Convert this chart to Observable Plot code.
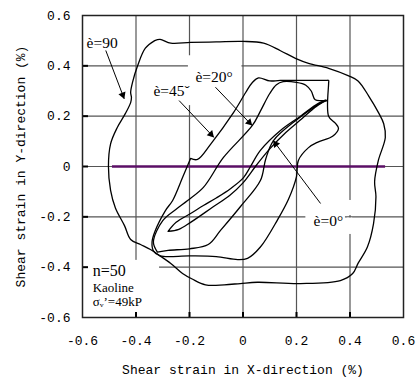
<!DOCTYPE html>
<html><head><meta charset="utf-8">
<style>body{margin:0;background:#fff}</style>
<script src="https://cdn.jsdelivr.net/npm/d3@7"></script>
<script src="https://cdn.jsdelivr.net/npm/@observablehq/plot@0.6"></script>
</head><body><div id="chart"></div>
<script>
// ---- data ----
const xTicks = [-0.6, -0.4, -0.2, 0, 0.2, 0.4, 0.6];
const yTicks = [-0.6, -0.4, -0.2, 0, 0.2, 0.4, 0.6];
const gridValues = [-0.4, -0.2, 0, 0.2, 0.4];
const xLabel = "Shear strain in X-direction (%)";
const yLabel = "Shear strain in Y-direction (%)";

// purple reference line at y = 0 (x extent)
const purpleFrom = -0.488, purpleTo = 0.533;

// theta = 90 loop
const theta90 = [[-0.33,0.50],[-0.365,0.47],[-0.394,0.40],[-0.413,0.334],[-0.42,0.294],[-0.417,0.274],[-0.42,0.254],[-0.44,0.21],[-0.47,0.155],[-0.495,0.09],[-0.503,0.0],[-0.495,-0.095],[-0.477,-0.165],[-0.443,-0.235],[-0.42,-0.29],[-0.383,-0.31],[-0.346,-0.33],[-0.31,-0.355],[-0.27,-0.385],[-0.226,-0.425],[-0.19,-0.447],[-0.14,-0.47],[-0.07,-0.47],[-0.01,-0.465],[0.054,-0.46],[0.215,-0.465],[0.364,-0.453],[0.41,-0.425],[0.43,-0.385],[0.465,-0.32],[0.488,-0.227],[0.497,-0.12],[0.492,-0.06],[0.506,0.024],[0.532,0.115],[0.526,0.17],[0.506,0.215],[0.47,0.28],[0.43,0.34],[0.395,0.36],[0.32,0.39],[0.245,0.41],[0.196,0.43],[0.14,0.46],[0.077,0.49],[0.0,0.497],[-0.1,0.495],[-0.196,0.493],[-0.27,0.49],[-0.31,0.505],[-0.33,0.50]];
// theta = 45 loop
const theta45 = [[-0.196,0.032],[-0.17,0.028],[-0.12,0.09],[-0.035,0.215],[0.01,0.294],[0.035,0.334],[0.058,0.352],[0.1,0.34],[0.14,0.342],[0.31,0.342],[0.32,0.342],[0.32,0.33],[0.32,0.2],[0.345,0.172],[0.357,0.152],[0.335,0.12],[0.28,0.097],[0.245,0.075],[0.207,0.024],[0.2,-0.04],[0.17,-0.13],[0.13,-0.21],[0.065,-0.32],[0.017,-0.365],[-0.02,-0.37],[-0.1,-0.358],[-0.2,-0.355],[-0.31,-0.355],[-0.335,-0.335],[-0.34,-0.3],[-0.33,-0.26],[-0.29,-0.175],[-0.263,-0.135],[-0.226,-0.044],[-0.196,0.032]];
// theta = 20 loop
const theta20 = [[-0.32,-0.34],[-0.335,-0.3],[-0.3,-0.215],[-0.25,-0.17],[-0.207,-0.135],[-0.148,-0.083],[-0.073,0.036],[0.035,0.163],[0.065,0.22],[0.1,0.29],[0.125,0.325],[0.15,0.337],[0.2,0.334],[0.235,0.323],[0.255,0.3],[0.27,0.265],[0.3,0.262],[0.315,0.262],[0.29,0.252],[0.2,0.185],[0.114,0.103],[0.085,0.03],[0.065,-0.056],[-0.01,-0.16],[-0.084,-0.254],[-0.13,-0.31],[-0.2,-0.327],[-0.28,-0.333],[-0.32,-0.34]];
// theta = 0 loop
const theta0 = [[-0.28,-0.258],[-0.25,-0.222],[-0.196,-0.187],[-0.148,-0.155],[-0.1,-0.125],[-0.047,-0.088],[0.002,-0.044],[0.028,0.0],[0.065,0.064],[0.14,0.143],[0.215,0.2],[0.28,0.25],[0.31,0.264],[0.27,0.236],[0.22,0.19],[0.16,0.135],[0.1,0.07],[0.05,0.005],[0.0,-0.065],[-0.05,-0.115],[-0.114,-0.162],[-0.196,-0.222],[-0.24,-0.25],[-0.28,-0.258]];

// annotation labels
const labelText = ["è=90", "è=45ˇ", "è=20°", "è=0°"];
const labelX = [-0.585, -0.335, -0.178, 0.264];
const labelY = [0.489, 0.298, 0.354, -0.215];
// arrows: start -> tip
const arrowX1 = [-0.513, -0.239, -0.103, 0.29];
const arrowY1 = [0.461, 0.262, 0.315, -0.147];
const arrowX2 = [-0.444, -0.109, 0.034, 0.113];
const arrowY2 = [0.269, 0.116, 0.163, 0.103];
// white label backgrounds (break the grid)
const boxX1 = [-0.204, -0.346, 0.235, 0.39, 0.39, -0.6];
const boxX2 = [-0.004, -0.178, 0.383, 0.41, 0.41, -0.312];
const boxY1 = [0.30, 0.242, -0.27, -0.27, -0.195, -0.58];
const boxY2 = [0.44, 0.342, -0.135, -0.205, -0.135, -0.373];
// legend block
const legendLines = ["n=50", "Kaoline", "σᵥ’=49kP"];
const legendX = -0.562;
const legendY = [-0.415, -0.481, -0.536];
const legendSize = [16, 13, 13];

// ---- build ----
const W = 417, H = 378, mL = 82, mR = 14, mT = 15, mB = 61;
const kx = (W - mL - mR) / (xTicks[6] - xTicks[0]);
const ky = (H - mT - mB) / (yTicks[6] - yTicks[0]);

const loops = [["90", theta90], ["45", theta45], ["20", theta20], ["0", theta0]];
const rows = loops.flatMap(([k, pts]) => pts.map(([x, y]) => ({x, y, loop: k})));
const labels = labelText.map((t, i) => ({t, x: labelX[i], y: labelY[i]}));
const legend = legendLines.map((t, i) => ({t, x: legendX, y: legendY[i], s: legendSize[i]}));
const arrows = arrowX1.map((_, i) => ({x1: arrowX1[i], y1: arrowY1[i], x2: arrowX2[i], y2: arrowY2[i]}));
const heads = arrows.map(a => {
  const sx = (a.x2 - a.x1) * kx, sy = -(a.y2 - a.y1) * ky;
  const L = Math.hypot(sx, sy), ux = sx / L, uy = sy / L;
  return {x: a.x2 - ux * 4.2 / kx, y: a.y2 + uy * 4.2 / ky, rotate: Math.atan2(ux, -uy) * 180 / Math.PI};
});
const boxes = boxX1.map((_, i) => ({x1: boxX1[i], x2: boxX2[i], y1: boxY1[i], y2: boxY2[i]}));
const tickLenX = 6 / kx, tickLenY = 5 / ky;
const fmt = d => d === 0 ? "0" : d.toFixed(1);
const serif = "Liberation Serif, Times New Roman, serif";

const chart = Plot.plot({
  width: W, height: H,
  marginLeft: mL, marginRight: mR, marginTop: mT, marginBottom: mB,
  x: {domain: [xTicks[0], xTicks[6]]},
  y: {domain: [yTicks[0], yTicks[6]]},
  style: {fontFamily: "Liberation Mono, monospace", fontSize: "13px", background: "white", color: "black"},
  marks: [
    Plot.gridX(gridValues, {stroke: "#555", strokeOpacity: 1, strokeWidth: 1.2}),
    Plot.gridY(gridValues, {stroke: "#555", strokeOpacity: 1, strokeWidth: 1.2}),
    Plot.rect(boxes, {x1: "x1", x2: "x2", y1: "y1", y2: "y2", fill: "white"}),
    Plot.ruleY([0], {x1: purpleFrom, x2: purpleTo, stroke: "#5b0f66", strokeWidth: 2.5}),
    Plot.line(rows, {x: "x", y: "y", z: "loop", curve: "catmull-rom", stroke: "black", strokeWidth: 1.3}),
    Plot.link(arrows, {x1: "x1", y1: "y1", x2: "x2", y2: "y2", stroke: "black", strokeWidth: 1}),
    Plot.dot(heads, {x: "x", y: "y", rotate: "rotate", symbol: "triangle", r: 2.8, fill: "black", stroke: "none"}),
    Plot.text(labels, {x: "x", y: "y", text: "t", textAnchor: "start", fontFamily: serif, fontSize: 15.5}),
    Plot.text(legend, {x: "x", y: "y", text: "t", textAnchor: "start", fontFamily: serif, fontSize: "s"}),
    Plot.ruleY(gridValues, {x1: xTicks[0], x2: xTicks[0] + tickLenX, stroke: "black", strokeWidth: 2}),
    Plot.ruleX(gridValues, {y1: yTicks[0], y2: yTicks[0] + tickLenY, stroke: "black", strokeWidth: 2}),
    Plot.frame({stroke: "#222", strokeWidth: 1.5}),
    Plot.axisX(xTicks, {tickSize: 0, tickPadding: 18, tickFormat: fmt, label: null}),
    Plot.axisY(yTicks, {tickSize: 0, tickPadding: 12, tickFormat: fmt, label: null}),
    Plot.text([xLabel], {frameAnchor: "bottom", dy: 56, textAnchor: "middle", fontSize: 13}),
    Plot.text([yLabel], {frameAnchor: "left", dx: -62, textAnchor: "middle", rotate: -90, fontSize: 13})
  ]
});
document.getElementById("chart").append(chart);
</script></body></html>
